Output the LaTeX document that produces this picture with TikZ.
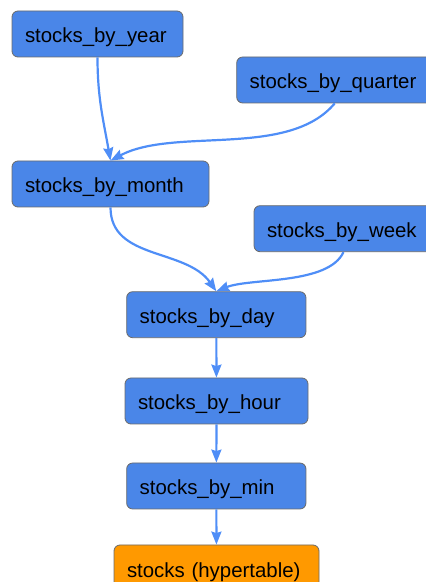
\documentclass[tikz,border=0pt]{standalone}
\usepackage{fontspec}
\setmainfont{Liberation Sans}
\usetikzlibrary{arrows.meta}
\definecolor{boxblue}{HTML}{4A86E8}
\definecolor{boxorange}{HTML}{FF9900}
\definecolor{boxgray}{HTML}{6B6B6B}
\definecolor{edgeblue}{HTML}{4F8EF7}
\begin{document}
\begin{tikzpicture}[x=1pt,y=1pt,
  tbl/.style={draw=boxgray, line width=0.8pt, fill=boxblue, rounded corners=6pt,
    minimum height=46pt, inner xsep=13pt, inner ysep=0pt, align=left,
    text height=22pt, text depth=4pt,
    font=\fontsize{20.4}{24}\selectfont},
  hyper/.style={tbl, fill=boxorange},
  feed/.style={draw=edgeblue, line width=2.2pt,
    -{Stealth[length=13pt,width=10pt,inset=1.5pt]}},
  ]
\useasboundingbox (0,0) rectangle (426,582);
\clip (0,0) rectangle (426,582);

\node[tbl, text width=145pt] (year) at (97.5,548) {stocks\_by\_year};
\node[tbl, text width=174pt] (quarter) at (336.7,502) {stocks\_by\_quarter};
\node[tbl, text width=171pt] (month) at (110.5,398) {stocks\_by\_month};
\node[tbl, text width=159pt] (week) at (346.5,353.3) {stocks\_by\_week};
\node[tbl, text width=153.3pt] (day) at (216.3,267.3) {stocks\_by\_day};
\node[tbl, text width=157pt] (hour) at (216.5,181) {stocks\_by\_hour};
\node[tbl, text width=153.3pt] (min) at (216.3,96) {stocks\_by\_min};
\node[hyper, text width=179pt] (stocks) at (216.5,14) {stocks (hypertable)};

% continuous aggregates feeding each other
\draw[feed] (year.south) to[out=-90,in=100] (month.north);
\draw[feed] ([xshift=-2pt]quarter.south) to[out=-130,in=28,looseness=0.8] (month.north);
\draw[feed] (month.south) to[out=-90,in=125] (day.north);
\draw[feed] ([xshift=-3pt]week.south) to[out=-115,in=22,looseness=0.7] (day.north);
\draw[feed] (day) -- (hour);
\draw[feed] (hour) -- (min);
\draw[feed] (min) -- (stocks);

\end{tikzpicture}
\end{document}
